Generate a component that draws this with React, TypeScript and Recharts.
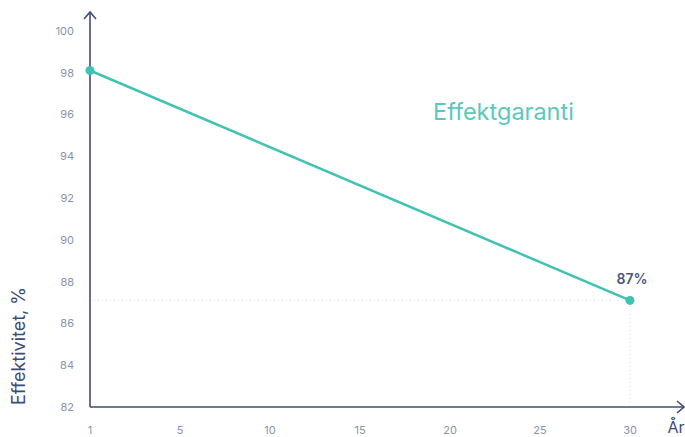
import React from 'react'
import {
  LineChart,
  Line,
  XAxis,
  YAxis,
  ReferenceLine,
  ReferenceDot,
  LabelList,
} from 'recharts'

// x = position on the axis (0 is labelled as year 1)
const positions = [0, 30]
const efficiency = [98.1, 87.1]
const xTicks = [0, 5, 10, 15, 20, 25, 30]
const xTickLabels = ['1', '5', '10', '15', '20', '25', '30']
const yTicks = [82, 84, 86, 88, 90, 92, 94, 96, 98, 100]

const TEAL = '#41c2b2'
const NAVY = '#3e4c78'
const TICK = '#8a92ab'
const FONT = 'Inter, "Open Sans", sans-serif'

const data = positions.map((x, i) => ({ x, value: efficiency[i] }))

const X_MAX = 33
const Y_MIN = 82
const Y_MAX = 100.9

function UpArrow({ cx, cy }: any) {
  return (
    <path
      d={`M${cx - 6},${cy + 7} L${cx},${cy} L${cx + 6},${cy + 7}`}
      fill="none"
      stroke={NAVY}
      strokeWidth={1.6}
    />
  )
}

function RightArrow({ cx, cy }: any) {
  return (
    <path
      d={`M${cx - 7},${cy - 6} L${cx},${cy} L${cx - 7},${cy + 6}`}
      fill="none"
      stroke={NAVY}
      strokeWidth={1.6}
    />
  )
}

function LastLabel(props: any) {
  const { x, y, index, value } = props
  if (index !== data.length - 1) return null
  return (
    <text
      x={x + 2}
      y={y - 22}
      textAnchor="middle"
      dominantBaseline="central"
      fill="#4a5780"
      fontSize={14}
      fontWeight={600}
      fontFamily={FONT}
    >
      {`${Math.round(value)}%`}
    </text>
  )
}

export default function App() {
  const last = data[data.length - 1]
  return (
    <div style={{ position: 'absolute', left: 0, top: 0, width: 685, height: 437, background: '#fff' }}>
      <LineChart
        width={685}
        height={437}
        data={data}
        margin={{ top: 12, right: 1, bottom: 0, left: 0 }}
      >
        <XAxis
          dataKey="x"
          type="number"
          domain={[0, X_MAX]}
          ticks={xTicks}
          height={30}
          tickFormatter={(v: number) => xTickLabels[xTicks.indexOf(v)]}
          tickLine={false}
          tickMargin={13}
          axisLine={{ stroke: NAVY, strokeWidth: 1.6 }}
          tick={{ fill: TICK, fontSize: 11, fontFamily: FONT }}
          label={(p: any) => {
            const vb = p.viewBox
            return (
              <text
                x={vb.x + vb.width - 8}
                y={vb.y + 20}
                textAnchor="middle"
                dominantBaseline="central"
                fill={NAVY}
                fontSize={16}
                fontFamily={FONT}
              >
                År
              </text>
            )
          }}
        />
        <YAxis
          type="number"
          domain={[Y_MIN, Y_MAX]}
          ticks={yTicks}
          width={90}
          tickLine={false}
          tickMargin={10}
          axisLine={{ stroke: NAVY, strokeWidth: 1.6 }}
          tick={{ fill: TICK, fontSize: 11, fontFamily: FONT }}
          label={(p: any) => {
            const vb = p.viewBox
            const y0 = vb.y + vb.height - 2
            return (
              <text
                x={18}
                y={y0}
                transform={`rotate(-90, 18, ${y0})`}
                textAnchor="start"
                dominantBaseline="central"
                fill={NAVY}
                fontSize={18}
                fontFamily={FONT}
              >
                Effektivitet, %
              </text>
            )
          }}
        />
        <ReferenceLine
          segment={[{ x: 0, y: last.value }, { x: last.x, y: last.value }]}
          stroke="#d9dce4"
          strokeDasharray="1 3"
        />
        <ReferenceLine
          segment={[{ x: last.x, y: Y_MIN }, { x: last.x, y: last.value }]}
          stroke="#d9dce4"
          strokeDasharray="1 3"
        />
        <ReferenceDot x={0} y={Y_MAX} r={0} shape={UpArrow} ifOverflow="visible" />
        <ReferenceDot x={X_MAX} y={Y_MIN} r={0} shape={RightArrow} ifOverflow="visible" />
        <Line
          type="linear"
          dataKey="value"
          stroke={TEAL}
          strokeWidth={2.5}
          dot={{ r: 4.5, fill: TEAL, stroke: TEAL, strokeWidth: 0 }}
          isAnimationActive={false}
        >
          <LabelList dataKey="value" content={LastLabel} />
        </Line>
      </LineChart>
      <div
        style={{
          position: 'absolute',
          left: 433,
          top: 96,
          color: '#5ac9bb',
          fontSize: 23.5,
          fontFamily: FONT,
          lineHeight: '32px',
        }}
      >
        Effektgaranti
      </div>
    </div>
  )
}
